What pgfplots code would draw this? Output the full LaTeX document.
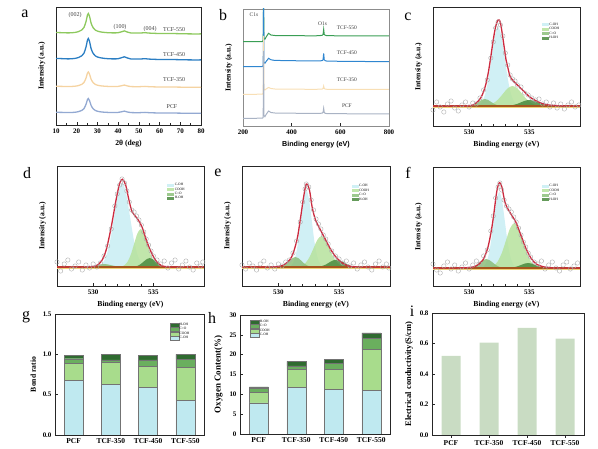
\documentclass[border=0pt]{standalone}
\usepackage{fontspec}
\setmainfont{Liberation Serif}
\setsansfont{Liberation Sans}
\usepackage{pgfplots}
\pgfplotsset{compat=1.18}
\definecolor{cA}{HTML}{8DC95E}
\definecolor{cB}{HTML}{2B7EC3}
\definecolor{cC}{HTML}{F5D3A1}
\definecolor{cD}{HTML}{93A9D2}
\definecolor{bA}{HTML}{3A9E55}
\definecolor{bB}{HTML}{2F86D0}
\definecolor{bC}{HTML}{F8DFB5}
\definecolor{bD}{HTML}{A9B3C4}
\definecolor{coh}{HTML}{C8EDF3}
\definecolor{cooh}{HTML}{B6E29C}
\definecolor{cdo}{HTML}{8CBF7A}
\definecolor{hoh}{HTML}{4A8A3E}
\definecolor{gcoh}{HTML}{BFE9F0}
\definecolor{gcooh}{HTML}{A8DC8C}
\definecolor{gcdo}{HTML}{6AAF5E}
\definecolor{ghoh}{HTML}{2F6B30}
\definecolor{basebr}{HTML}{A5561E}
\definecolor{baseye}{HTML}{EFD27A}
\definecolor{env}{HTML}{CC2A3F}
\definecolor{sage}{HTML}{C9DCC3}
\pgfplotsset{
  panel/.style={
    scale only axis, anchor=south west,
    axis line style={black!85, line width=0.6pt},
    every tick/.style={black!85, line width=0.4pt},
    major tick length=2.5bp, minor tick length=1.5bp,
    tick align=inside, xtick pos=bottom, ytick pos=left,
    tick label style={font=\bfseries\fontsize{7}{8}\selectfont},
    label style={font=\bfseries\fontsize{7.7}{9}\selectfont},
    /pgf/number format/assume math mode=true,
  },
  tinyleg/.style={legend style={draw=none, fill=none, font=\fontsize{3.5}{3.5}\selectfont, inner sep=0pt,
      row sep=0pt, cells={anchor=west}, nodes={inner sep=0.3bp}}},
  xps/.style={panel, tinyleg, xmin=527, xmax=539.2, ymin=0, xtick={530,535}, minor x tick num=4,
    ytick=\empty, xlabel={Binding energy (eV)}, ylabel={Intensity (a.u.)},
    ylabel style={at={(axis description cs:-0.05,0.5)},anchor=south},
    legend image code/.code={\fill[#1] (0bp,-1.5bp) rectangle (7bp,1.5bp);}},
  comp/.style={draw=none, fill=#1, fill opacity=0.85, smooth},
  circ/.style={only marks, mark=o, mark size=2.2bp, gray!65, mark options={line width=0.4pt}, forget plot},
  envl/.style={env, line width=1.3bp, smooth, forget plot},
  bars/.style={panel, tinyleg, xmin=-0.5, xmax=3.5, ymin=0, xtick={0,1,2,3},
    xticklabels={PCF,TCF-350,TCF-450,TCF-550}, bar width=19bp,
    xticklabel style={font=\bfseries\fontsize{7.5}{8}\selectfont},
    yticklabel style={/pgf/number format/fixed, /pgf/number format/fixed zerofill, /pgf/number format/precision=1}},
  seg/.style={fill=#1, draw=black!55, line width=0.3pt,
    legend image code/.code={\fill[##1] (0bp,-2bp) rectangle (9bp,2bp);}},
}
\begin{document}
\begin{tikzpicture}
\path[use as bounding box] (0,0) rectangle (598bp,449bp);
% ---------------- a
\begin{axis}[panel, at={(56bp,324bp)}, width=145bp, height=118bp,
  xmin=10, xmax=80, ymin=0, ymax=118, xtick={10,20,...,80}, minor x tick num=1,
  ytick=\empty, xlabel={2θ (deg)}, ylabel={Intensity (a.u.)},
  ylabel style={at={(axis description cs:-0.05,0.5)},anchor=south}]
\addplot[cA, line width=1.3bp, smooth] coordinates {(10,92.5)(13,92.3)(16,92.1)(19,92.5)(21,93.5)(22.5,95.1)(23.5,97.5)(24.5,103.5)(25.2,110.1)(25.6,111.5)(26.2,108.5)(27,101.5)(28,97.1)(29,94.9)(30,93.9)(32,92.9)(35,92.3)(38,92.1)(40,92.3)(41.5,93.1)(43,94.1)(44.5,92.9)(46,92.1)(50,91.9)(53,92.3)(55,91.9)(60,91.5)(65,91.5)(70,91.3)(75,91.1)(80,91.1)};
\addplot[cB, line width=1.3bp, smooth] coordinates {(10,66.55)(13,66.35)(16,66.1)(19,66.55)(21,67.6)(22.5,69.3)(23.5,71.8)(24.5,78.1)(25.2,85.0)(25.6,86.5)(26.2,83.4)(27,76.0)(28,71.4)(29,69.1)(30,68.0)(32,67.0)(35,66.3)(38,66.1)(40,66.3)(41.5,67.2)(43,68.2)(44.5,67.0)(46,66.1)(50,65.9)(53,66.3)(55,65.9)(60,65.5)(65,65.5)(70,65.3)(75,65.1)(80,65.1)};
\addplot[cC, line width=1.3bp, smooth] coordinates {(10,38.75)(13,38.6)(16,38.45)(19,38.75)(21,39.5)(22.5,40.7)(23.5,42.5)(24.5,47)(25.2,52)(25.6,53)(26.2,50.75)(27,45.5)(28,42.2)(29,40.55)(30,39.8)(32,39.05)(35,38.6)(38,38.45)(40,38.6)(41.5,39.2)(43,39.95)(44.5,39.05)(46,38.45)(50,38.3)(53,38.6)(55,38.3)(60,38)(65,38)(70,37.85)(75,37.7)(80,37.7)};
\addplot[cD, line width=1.3bp, smooth] coordinates {(10,12.7)(13,12.6)(16,12.45)(19,12.7)(21,13.45)(22.5,14.6)(23.5,16.35)(24.5,20.7)(25.2,25.5)(25.6,26.5)(26.2,24.3)(27,19.25)(28,16.1)(29,14.5)(30,13.75)(32,13)(35,12.6)(38,12.45)(40,12.6)(41.5,13.15)(43,13.9)(44.5,13)(46,12.45)(50,12.3)(53,12.6)(55,12.3)(60,12)(65,12)(70,11.85)(75,11.7)(80,11.7)};
\begin{scope}[every node/.style={font=\fontsize{6}{6}\selectfont, text=black!75}]
\node at (axis cs:19.2,110) {(002)};
\node at (axis cs:40.9,98) {(100)};
\node at (axis cs:55.4,96) {(004)};
\node at (axis cs:67,95) {TCF-550};
\node at (axis cs:67,70) {TCF-450};
\node at (axis cs:67,45) {TCF-350};
\node at (axis cs:66,18) {PCF};
\end{scope}
\end{axis}
% ---------------- b
\begin{axis}[panel, at={(243bp,323bp)}, width=146bp, height=117bp,
  axis line style={black!45, line width=0.6pt},
  xmin=200, xmax=800, ymin=0, ymax=117, xtick={200,400,600,800},
  ytick=\empty, xlabel={Binding energy (eV)}, ylabel={Intensity (a.u.)},
  xlabel style={font=\sffamily\bfseries\fontsize{7.2}{8}\selectfont},
  ylabel style={at={(axis description cs:-0.05,0.5)},anchor=south}]
\addplot[bA, line width=1bp] coordinates {(200,84.3)(250,84.3)(280,84.5)(283,86)(284.5,130)(286,88)(290,86.7)(295,89)(305,92.7)(315,91)(330,90.5)(400,90.3)(500,90.2)(525,90.6)(529,91.5)(531.5,96.7)(534,91.5)(538,90.8)(545,90.3)(600,90.2)(700,90.1)(800,90)};
\addplot[bB, line width=1bp] coordinates {(200,59.3)(250,59.3)(280,59.5)(283,61)(284.5,125)(286,64)(290,62.7)(295,64.5)(305,67.7)(315,66.2)(330,65.6)(400,65.3)(500,65.0)(525,65.3)(529,66.2)(531.5,72.7)(534,66.2)(538,65.3)(545,64.9)(600,64.7)(700,64.5)(800,64.3)};
\addplot[bC, line width=1bp] coordinates {(200,31.7)(250,31.7)(280,31.9)(283,33)(284.5,90)(286,37)(290,36)(295,37)(305,38.5)(315,37.5)(330,37)(400,36.8)(500,36.7)(525,36.9)(529,37.5)(531.5,40)(534,37.5)(538,36.9)(545,36.7)(600,36.7)(700,36.6)(800,36.5)};
\addplot[bD, line width=1bp] coordinates {(200,7.7)(250,7.7)(280,7.9)(283,8.5)(284.5,75)(286,10.5)(290,9.3)(295,11.5)(305,15)(315,13.5)(330,13)(400,12.8)(500,12.5)(525,12.8)(529,13.6)(531.5,17.7)(534,13.6)(538,12.7)(545,12.4)(600,12.3)(700,12.1)(800,12)};
\begin{scope}[every node/.style={font=\fontsize{5.5}{6}\selectfont, text=black!75}]
\node at (axis cs:245,111) {C1s};
\node at (axis cs:527,102) {O1s};
\node at (axis cs:627,98) {TCF-550};
\node at (axis cs:627,73) {TCF-450};
\node at (axis cs:627,46) {TCF-350};
\node at (axis cs:627,20) {PCF};
\end{scope}
\end{axis}
% ---------------- c
\begin{axis}[xps, at={(433bp,323bp)}, width=147bp, height=119bp, ymax=119,
  legend style={at={(0.74,0.87)}, anchor=north west}]
\addplot[comp=coh] coordinates {(530.75,20)(531.03,23.5)(531.30,30.7)(531.58,45.7)(531.85,67.9)(532.13,89.7)(532.40,99)(532.68,89.7)(532.95,67.9)(533.23,45.7)(533.50,30.7)(533.78,23.5)(534.05,20)};
\addlegendentry{C-OH}
\addplot[comp=cooh] coordinates {(531.2,20)(531.6,20.9)(532.0,22.7)(532.4,26.5)(532.8,32.1)(533.2,37.7)(533.6,40)(534.0,37.7)(534.4,32.1)(534.8,26.5)(535.2,22.7)(535.6,20.9)(536.0,20)};
\addlegendentry{COOH}
\addplot[comp=cdo] coordinates {(529.8,20)(530.05,20.3)(530.3,20.95)(530.55,22.3)(530.8,24.25)(531.05,26.2)(531.3,27)(531.55,26.2)(531.8,24.25)(532.05,22.3)(532.3,20.95)(532.55,20.3)(532.8,20)};
\addlegendentry{C{=}O}
\addplot[comp=hoh] coordinates {(532.9,20)(533.25,20.26)(533.6,20.81)(533.95,21.95)(534.3,23.64)(534.65,25.3)(535.0,26)(535.35,25.3)(535.7,23.64)(536.05,21.95)(536.4,20.81)(536.75,20.26)(537.1,20)};
\addlegendentry{H-OH}
\addplot[baseye, line width=1.2bp, forget plot] coordinates {(527,18.3)(539.2,18.3)};
\addplot[basebr, line width=2.2bp, forget plot] coordinates {(527,20)(539.2,20)};
\addplot[circ] coordinates {(527.0,16)(527.3,24)(527.6,19)(527.9,14)(528.2,22)(528.5,25)(528.8,18)(529.1,15)(529.4,21)(529.7,24)(530.0,19)(530.3,23)(530.6,22)(530.9,28)(531.2,36)(531.5,46)(531.8,68)(532.0,84)(532.2,98)(532.4,104)(532.6,101)(532.8,90)(533.0,73)(533.2,61)(533.4,51)(533.6,47)(533.8,45)(534.0,41)(534.3,39)(534.6,33)(534.9,31)(535.2,28)(535.5,26)(535.8,27)(536.1,22)(536.4,24)(536.7,19)(537.0,23)(537.3,18)(537.6,22)(537.9,17)(538.2,21)(538.5,24)(538.8,19)(539.1,21)};
\addplot[envl] coordinates {(527,20)(528,20)(529,20)(530.0,20.2)(530.4,21.5)(530.8,25.4)(531.0,28.9)(531.2,34.4)(531.4,42.4)(531.6,54.1)(531.8,69.5)(532.0,86.0)(532.2,99.6)(532.4,106)(532.6,103)(532.86,83)(533.05,67)(533.2,59)(533.43,48.7)(533.86,42.7)(534.29,37.7)(534.6,34)(535.0,29.3)(535.35,26.5)(535.7,24.3)(536.1,22.3)(536.6,21)(537.5,20.2)(538.5,20)(539.2,20)};
\end{axis}
% ---------------- d
\begin{axis}[xps, at={(57bp,163bp)}, width=147bp, height=120bp, ymax=120,
  legend style={at={(0.75,0.86)}, anchor=north west}]
\addplot[comp=coh] coordinates {(530.45,19)(530.775,22.7)(531.1,30.3)(531.425,46.3)(531.75,70)(532.075,93.2)(532.4,103)(532.725,93.2)(533.05,70)(533.375,46.3)(533.7,30.3)(534.025,22.7)(534.35,19)};
\addlegendentry{C-OH}
\addplot[comp=cooh] coordinates {(532.3,19)(532.575,20.7)(532.85,24.1)(533.125,31.4)(533.4,42.1)(533.675,52.6)(533.95,57)(534.225,52.6)(534.5,42.1)(534.775,31.4)(535.05,24.1)(535.325,20.7)(535.6,19)};
\addlegendentry{COOH}
\addplot[comp=cdo] coordinates {(529.1,19)(529.4,19.1)(529.7,19.4)(530.0,20)(530.3,20.8)(530.6,21.6)(530.9,22)(531.2,21.6)(531.5,20.8)(531.8,20)(532.1,19.4)(532.4,19.1)(532.7,19)};
\addlegendentry{C{=}O}
\addplot[comp=hoh] coordinates {(533.2,19)(533.45,19.4)(533.7,20.2)(533.95,21.9)(534.2,24.5)(534.45,26.9)(534.7,28)(534.95,26.9)(535.2,24.5)(535.45,21.9)(535.7,20.2)(535.95,19.4)(536.2,19)};
\addlegendentry{H-OH}
\addplot[baseye, line width=1.2bp, forget plot] coordinates {(527,17.3)(539.2,17.3)};
\addplot[basebr, line width=2.2bp, forget plot] coordinates {(527,19)(539.2,19)};
\addplot[circ] coordinates {(527.0,24)(527.3,15)(527.6,22)(527.9,26)(528.2,17)(528.5,20)(528.8,24)(529.1,16)(529.4,21)(529.7,18)(530.0,22)(530.3,19)(530.6,23)(530.9,30)(531.2,40)(531.5,57)(531.8,80)(532.0,92)(532.2,101)(532.4,107)(532.6,103)(532.8,95)(533.0,84)(533.2,76)(533.4,74)(533.6,70)(533.8,66)(534.0,61)(534.2,54)(534.4,47)(534.6,41)(534.8,35)(535.0,30)(535.3,26)(535.6,22)(535.9,25)(536.2,18)(536.5,23)(536.8,26)(537.1,17)(537.4,21)(537.7,25)(538.0,19)(538.3,16)(538.6,23)(538.9,20)(539.1,24)};
\addplot[envl] coordinates {(527,19)(528,19)(529,19)(529.8,19.3)(530.27,20.3)(530.7,25)(531.08,36)(531.5,59)(531.9,86)(532.2,102.7)(532.43,106.7)(532.7,101)(532.97,86)(533.24,74)(533.65,67.7)(534.05,59.3)(534.46,44.3)(534.86,32.7)(535.27,24.3)(535.68,20.3)(536.2,19.2)(537,19)(538,19)(539.2,19)};
\end{axis}
% ---------------- e
\begin{axis}[xps, at={(242bp,163bp)}, width=148bp, height=120bp, ymax=120,
  legend style={at={(0.74,0.85)}, anchor=north west}]
\addplot[comp=coh] coordinates {(530.95,19)(531.175,22.4)(531.4,29.4)(531.625,44)(531.85,65.7)(532.075,87)(532.3,96)(532.525,87)(532.75,65.7)(532.975,44)(533.2,29.4)(533.425,22.4)(533.65,19)};
\addlegendentry{C-OH}
\addplot[comp=cooh] coordinates {(531.6,19)(531.925,20.4)(532.25,23.2)(532.575,29.1)(532.9,37.8)(533.225,46.4)(533.55,50)(533.875,46.4)(534.2,37.8)(534.525,29.1)(534.85,23.2)(535.175,20.4)(535.5,19)};
\addlegendentry{COOH}
\addplot[comp=cdo] coordinates {(529.9,19)(530.15,19.4)(530.4,20.4)(530.65,22.3)(530.9,25.1)(531.15,27.8)(531.4,29)(531.65,27.8)(531.9,25.1)(532.15,22.3)(532.4,20.4)(532.65,19.4)(532.9,19)};
\addlegendentry{C{=}O}
\addplot[comp=hoh] coordinates {(533.0,19)(533.3,19.3)(533.6,20)(533.9,21.4)(534.2,23.6)(534.5,25.6)(534.8,26.5)(535.1,25.6)(535.4,23.6)(535.7,21.4)(536.0,20)(536.3,19.3)(536.6,19)};
\addlegendentry{H-OH}
\addplot[baseye, line width=1.2bp, forget plot] coordinates {(527,17.3)(539.2,17.3)};
\addplot[basebr, line width=2.2bp, forget plot] coordinates {(527,19)(539.2,19)};
\addplot[circ] coordinates {(527.0,21)(527.3,17)(527.6,23)(527.9,20)(528.2,16)(528.5,22)(528.8,25)(529.1,18)(529.4,21)(529.7,17)(530.0,22)(530.3,20)(530.6,24)(530.9,26)(531.2,33)(531.5,45)(531.8,64)(532.0,84)(532.2,97)(532.3,102)(532.5,99)(532.7,86)(532.9,76)(533.1,67)(533.3,62)(533.5,57)(533.7,51)(533.9,47)(534.1,42)(534.4,35)(534.7,30)(535.0,27)(535.3,23)(535.6,25)(535.9,20)(536.2,23)(536.5,17)(536.8,21)(537.1,24)(537.4,19)(537.7,16)(538.0,22)(538.3,25)(538.6,19)(538.9,22)(539.1,18)};
\addplot[envl] coordinates {(527,19)(528,19)(529,19)(530,19.5)(530.56,22)(531.1,29.3)(531.53,46)(531.8,66)(532.08,89)(532.3,102)(532.56,96)(532.78,79)(533.06,66)(533.47,56)(533.9,46)(534.3,36.7)(534.72,29.3)(535.14,24.3)(535.56,21)(536.1,19.3)(537,19)(538,19)(539.2,19)};
\end{axis}
% ---------------- f
\begin{axis}[xps, at={(433bp,163bp)}, width=147bp, height=119bp, ymax=119,
  legend style={at={(0.74,0.857)}, anchor=north west}]
\addplot[comp=coh] coordinates {(531.09,18)(531.325,21.3)(531.56,28.3)(531.795,42.7)(532.03,64.1)(532.265,85.1)(532.5,94)(532.735,85.1)(532.97,64.1)(533.205,42.7)(533.44,28.3)(533.675,21.3)(533.91,18)};
\addlegendentry{C-OH}
\addplot[comp=cooh] coordinates {(531.65,18)(532.0,20)(532.35,24.1)(532.7,32.6)(533.05,45.3)(533.4,57.7)(533.75,63)(534.1,57.7)(534.45,45.3)(534.8,32.6)(535.15,24.1)(535.5,20)(535.85,18)};
\addlegendentry{COOH}
\addplot[comp=cdo] coordinates {(529.75,18)(530.025,18.4)(530.3,19.2)(530.575,20.9)(530.85,23.5)(531.125,25.9)(531.4,27)(531.675,25.9)(531.95,23.5)(532.225,20.9)(532.5,19.2)(532.775,18.4)(533.05,18)};
\addlegendentry{C{=}O}
\addplot[comp=hoh] coordinates {(533.1,18)(533.4,18.2)(533.7,18.7)(534.0,19.6)(534.3,21)(534.6,22.4)(534.9,23)(535.2,22.4)(535.5,21)(535.8,19.6)(536.1,18.7)(536.4,18.2)(536.7,18)};
\addlegendentry{H-OH}
\addplot[baseye, line width=1.2bp, forget plot] coordinates {(527,16.3)(539.2,16.3)};
\addplot[basebr, line width=2.2bp, forget plot] coordinates {(527,18)(539.2,18)};
\addplot[circ] coordinates {(527.0,22)(527.3,16)(527.6,13)(527.9,20)(528.2,24)(528.5,17)(528.8,21)(529.1,15)(529.4,19)(529.7,23)(530.0,17)(530.3,21)(530.6,25)(530.9,22)(531.2,30)(531.5,36)(531.8,55)(532.0,70)(532.2,88)(532.4,99)(532.55,103)(532.7,96)(532.9,86)(533.1,80)(533.3,77)(533.5,74)(533.7,69)(533.9,64)(534.1,58)(534.3,51)(534.5,44)(534.7,39)(534.9,33)(535.1,29)(535.4,24)(535.7,22)(536.0,25)(536.3,17)(536.6,21)(536.9,24)(537.2,18)(537.5,15)(537.8,21)(538.1,24)(538.4,17)(538.7,20)(539.0,23)};
\addplot[envl] coordinates {(527,18)(528,18)(529,18)(530,18.5)(530.57,20)(531.14,26)(531.57,39.3)(531.94,62.7)(532.29,94.3)(532.51,103.3)(532.71,99.3)(533.0,82.7)(533.43,72.7)(533.86,64.3)(534.29,51)(534.71,37.7)(535.14,27.7)(535.57,22)(536.14,19.3)(537,18)(538,18)(539.2,18)};
\end{axis}
% ---------------- g
\begin{axis}[bars, ybar stacked, at={(55bp,14bp)}, width=149bp, height=121bp,
  ymax=1.5, ytick={0,0.5,1,1.5}, ylabel={Bond ratio}, reverse legend,
  legend style={at={(0.77,0.93)}, anchor=north west}]
\addplot[seg=gcoh] coordinates {(0,0.68)(1,0.63)(2,0.59)(3,0.43)};
\addlegendentry{C-OH}
\addplot[seg=gcooh] coordinates {(0,0.21)(1,0.27)(2,0.26)(3,0.405)};
\addlegendentry{COOH}
\addplot[seg=gcdo] coordinates {(0,0.056)(1,0.03)(2,0.08)(3,0.105)};
\addlegendentry{C{=}O}
\addplot[seg=ghoh] coordinates {(0,0.044)(1,0.07)(2,0.06)(3,0.06)};
\addlegendentry{H-OH}
\end{axis}
% ---------------- h
\begin{axis}[bars, ybar stacked, at={(240bp,15bp)}, width=150bp, height=119bp,
  ymax=30, ytick={0,5,...,30}, yticklabel style={/pgf/number format/precision=0},
  ylabel={Oxygen Content(\%)}, ylabel style={font=\bfseries\fontsize{9}{10}\selectfont}, reverse legend,
  legend style={at={(0.067,0.96)}, anchor=north west}]
\addplot[seg=gcoh] coordinates {(0,7.85)(1,11.7)(2,11.3)(3,11.0)};
\addlegendentry{C-OH}
\addplot[seg=gcooh] coordinates {(0,2.65)(1,4.6)(2,5.0)(3,10.3)};
\addlegendentry{COOH}
\addplot[seg=gcdo] coordinates {(0,1.0)(1,0.85)(2,1.5)(3,2.8)};
\addlegendentry{C{=}O}
\addplot[seg=ghoh] coordinates {(0,0.35)(1,1.15)(2,1.1)(3,1.4)};
\addlegendentry{H-OH}
\end{axis}
% ---------------- i
\begin{axis}[bars, ybar, at={(432bp,14bp)}, width=152bp, height=122bp,
  ymax=0.8, ytick={0,0.2,...,0.8},
  ylabel={Electrical conductivity(S/cm)}, ylabel style={font=\bfseries\fontsize{8.5}{9}\selectfont}]
\addplot[fill=sage, draw=none] coordinates {(0,0.519)(1,0.606)(2,0.702)(3,0.632)};
\end{axis}
% ---------------- panel letters
\begin{scope}[every node/.style={font=\fontsize{16}{16}\selectfont}]
\node at (25bp,435bp) {a};
\node at (223bp,434bp) {b};
\node at (408bp,432bp) {c};
\node at (27bp,276bp) {d};
\node at (218bp,276bp) {e};
\node at (408bp,276bp) {f};
\node at (26bp,132bp) {g};
\node at (212bp,131bp) {h};
\node at (412bp,138bp) {i};
\end{scope}
\end{tikzpicture}
\end{document}
